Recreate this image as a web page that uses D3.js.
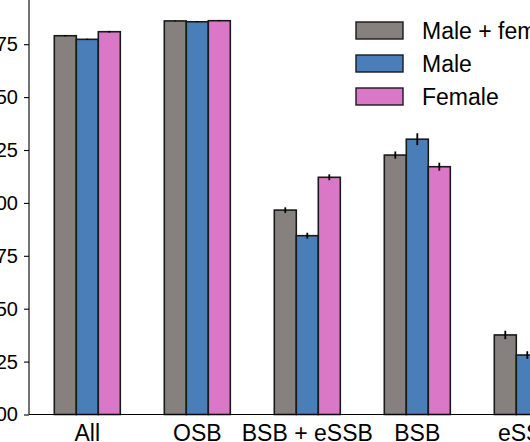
<!DOCTYPE html>
<html>
<head>
<meta charset="utf-8">
<script src="https://cdn.jsdelivr.net/npm/d3@7"></script>
<style>
  html, body { margin: 0; padding: 0; background: #fff; }
  svg { display: block; }
  text { font-family: "Liberation Sans", Arial, sans-serif; fill: #000; }
</style>
</head>
<body>
<svg id="chart" width="530" height="442"></svg>
<script>
// ---- data ----
const categories = ["All", "OSB", "BSB + eSSB", "BSB", "eSSB"];
const seriesNames = ["Male + female", "Male", "Female"];
const bothValues   = [1.790, 1.860, 0.966, 1.226, 0.376];
const maleValues   = [1.773, 1.856, 0.845, 1.301, 0.281];
const femaleValues = [1.809, 1.861, 1.121, 1.171, 0.450];
const bothErr   = [0.003, 0.002, 0.013, 0.017, 0.020];
const maleErr   = [0.003, 0.002, 0.014, 0.028, 0.018];
const femaleErr = [0.004, 0.002, 0.014, 0.019, 0.020];
const yTicks = [0, 0.25, 0.5, 0.75, 1.0, 1.25, 1.5, 1.75];
const colors = ["#86817e", "#4a7eb8", "#db77c7"];

const series = [
  { name: seriesNames[0], values: bothValues, err: bothErr, color: colors[0] },
  { name: seriesNames[1], values: maleValues, err: maleErr, color: colors[1] },
  { name: seriesNames[2], values: femaleValues, err: femaleErr, color: colors[2] }
];

const svg = d3.select("#chart");
const barW = 0.2;

const x = d3.scaleLinear().domain([0, 1]).range([87.3, 197.3]);
const y = d3.scaleLinear().domain([0, 2]).range([414.5, 414.5 - 2 * 211.6]);

// bars
series.forEach((s, j) => {
  const g = svg.append("g");
  categories.forEach((c, i) => {
    const cx = i + (j - 1) * barW;
    g.append("rect")
      .attr("x", x(cx - barW / 2))
      .attr("y", y(s.values[i]))
      .attr("width", x(cx + barW / 2) - x(cx - barW / 2))
      .attr("height", y(0) - y(s.values[i]))
      .attr("fill", s.color)
      .attr("stroke", "#1a1a1a")
      .attr("stroke-width", 1.6);
    g.append("line")
      .attr("x1", x(cx)).attr("x2", x(cx))
      .attr("y1", y(s.values[i] - s.err[i]))
      .attr("y2", y(s.values[i] + s.err[i]))
      .attr("stroke", "#000")
      .attr("stroke-width", 1.8);
  });
});

// y axis
const yAxis = d3.axisLeft(y).tickValues(yTicks).tickFormat(d3.format(".2f")).tickSize(5).tickPadding(6);
const yg = svg.append("g").attr("transform", "translate(29,0)").call(yAxis);
yg.select(".domain").remove();
yg.selectAll(".tick line").attr("stroke", "#000").attr("stroke-width", 1.1);
yg.selectAll(".tick text").attr("font-size", 20).attr("font-family", "Liberation Sans, Arial, sans-serif").attr("fill", "#000");
svg.append("line").attr("x1", 29).attr("x2", 29).attr("y1", 0).attr("y2", y(0))
  .attr("stroke", "#000").attr("stroke-width", 1.1);

// x axis
svg.append("line").attr("x1", 29).attr("x2", 530).attr("y1", y(0)).attr("y2", y(0))
  .attr("stroke", "#000").attr("stroke-width", 1.1);
svg.append("g").selectAll("text").data(categories).join("text")
  .attr("x", (d, i) => x(i))
  .attr("y", 440.5)
  .attr("text-anchor", "middle")
  .attr("font-size", 23)
  .text(d => d);

// legend
const leg = svg.append("g");
series.forEach((s, j) => {
  const ly = 22 + j * 33;
  leg.append("rect").attr("x", 356).attr("y", ly).attr("width", 47).attr("height", 17)
    .attr("fill", s.color).attr("stroke", "#1a1a1a").attr("stroke-width", 1.4);
  leg.append("text").attr("x", 422).attr("y", ly + 16.5).attr("font-size", 23).text(s.name);
});
</script>
</body>
</html>
